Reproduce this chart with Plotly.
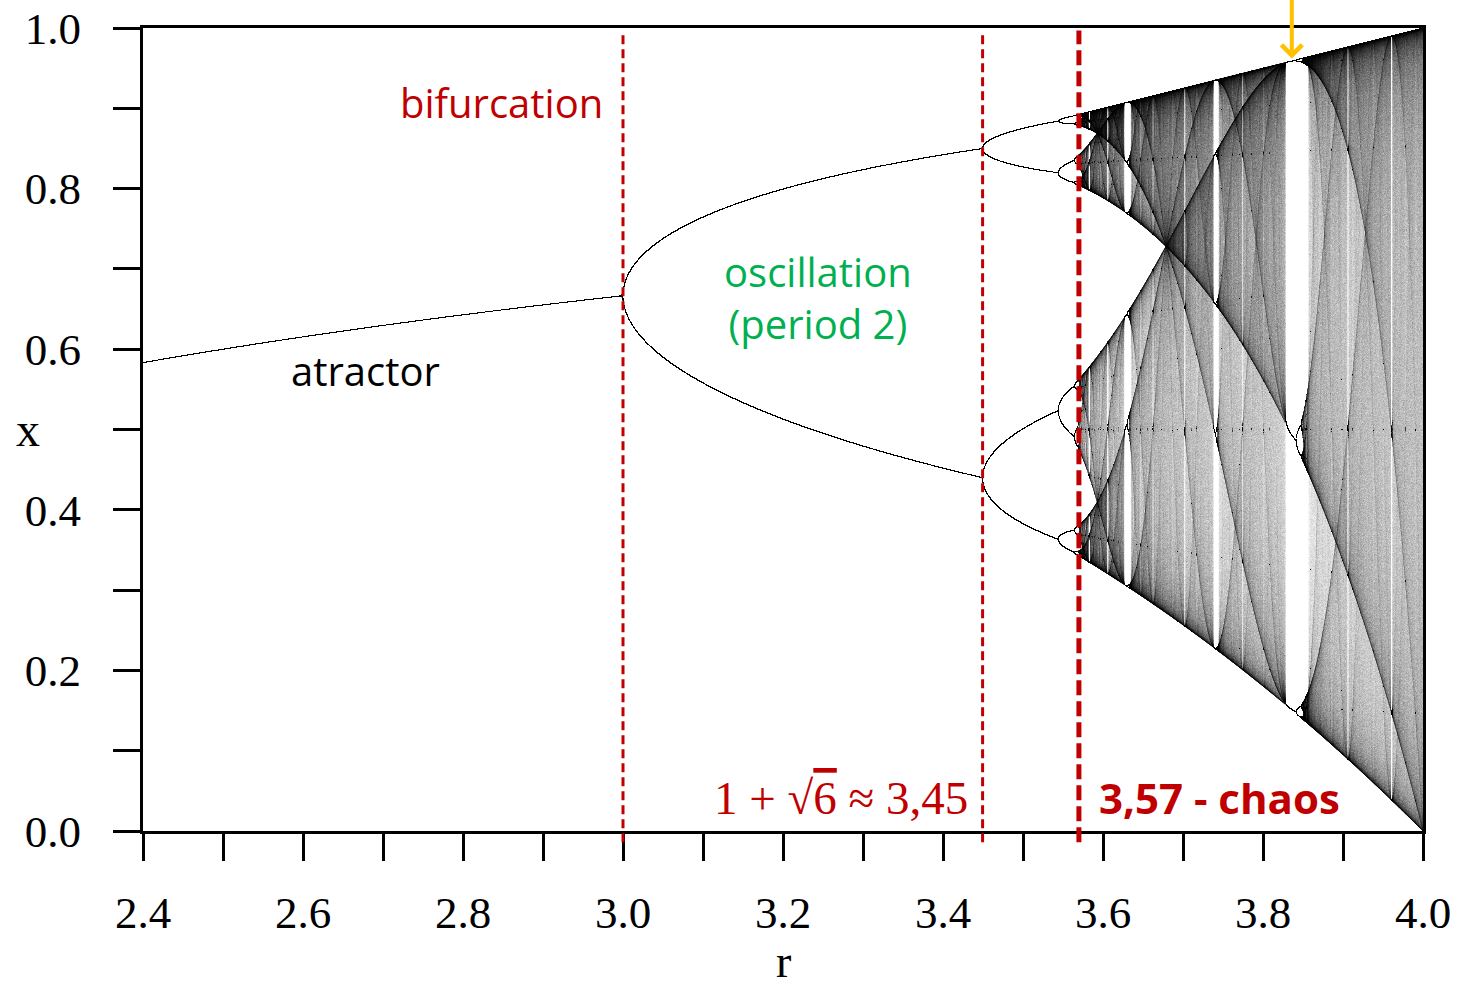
import numpy as np
import plotly.graph_objects as go

# ---------------- data ----------------
r_range = [2.4, 4.0]                 # parameter range shown
x_range = [0.0, 1.0]
x_tick_labels = ["2.4", "2.6", "2.8", "3.0", "3.2", "3.4", "3.6", "3.8", "4.0"]
y_tick_labels = ["0.0", "0.2", "0.4", "0.6", "0.8", "1.0"]
marker_r = [3.0, 3.4495, 3.5699]     # dashed reference lines (bifurcation, 1+sqrt6, chaos onset)
arrow_r = 3.836                      # period-3 window arrow
arrow_x = 0.962
transient_iters = 1500
recorded_iters = 3000
cols, rows = 1280, 803               # density grid
samples_per_col = 12

# logistic map x -> r x (1 - x): bifurcation diagram
r_vals = np.linspace(r_range[0], r_range[1], cols * samples_per_col)
xv = np.full_like(r_vals, 0.2)
for _ in range(transient_iters):
    xv = r_vals * xv * (1 - xv)
col_idx = (np.arange(r_vals.size) * cols) // r_vals.size
counts = np.zeros(cols * rows, dtype=np.int64)
chunk = []
for i in range(recorded_iters):
    xv = r_vals * xv * (1 - xv)
    yi = np.clip((xv * rows).astype(np.int64), 0, rows - 1)
    chunk.append(yi * cols + col_idx)
    if len(chunk) == 100:
        counts += np.bincount(np.concatenate(chunk), minlength=cols * rows)
        chunk = []
if chunk:
    counts += np.bincount(np.concatenate(chunk), minlength=cols * rows)
counts = counts.reshape(rows, cols)
dens = 1 - np.exp(-counts / 100.0)
z = np.round(dens * 255).astype(np.uint8)

# ---------------- figure ----------------
RED = "#c00000"
GREEN = "#00b050"
ORANGE = "#ffc000"
SERIF = "Liberation Serif"
SANS = "Open Sans"

fig = go.Figure()
fig.add_trace(go.Heatmap(
    z=z,
    x0=r_range[0] + (r_range[1] - r_range[0]) / cols / 2, dx=(r_range[1] - r_range[0]) / cols,
    y0=0.5 / rows, dy=1.0 / rows,
    colorscale=[[0, "white"], [1, "black"]], zmin=0, zmax=255,
    showscale=False, hoverinfo="skip", zsmooth=False,
))

# dashed vertical lines
dash_specs = [(3, "9px,5px"), (3, "9px,5px"), (5, "15px,6px")]
for rv, (w, d) in zip(marker_r, dash_specs):
    fig.add_shape(type="line", xref="x", yref="paper", x0=rv, x1=rv, y0=-0.014, y1=0.997,
                  line=dict(color=RED, width=w, dash=d), layer="above")

axis_common = dict(
    showline=True, linewidth=3, linecolor="black", mirror=True,
    ticks="outside", ticklen=27, tickwidth=3, tickcolor="black",
    showgrid=False, zeroline=False, automargin=False,
    tickfont=dict(family=SERIF, size=45, color="black"),
)
fig.update_xaxes(range=r_range, tickvals=[float(t) for t in x_tick_labels], ticktext=x_tick_labels,
                 minor=dict(dtick=0.1, tick0=2.4, ticks="outside", ticklen=27, tickwidth=3, tickcolor="black", showgrid=False),
                 ticklabelstandoff=13, **axis_common)
fig.update_yaxes(range=x_range, tickvals=[float(t) for t in y_tick_labels], ticktext=y_tick_labels,
                 minor=dict(dtick=0.1, tick0=0, ticks="outside", ticklen=27, tickwidth=3, tickcolor="black", showgrid=False),
                 ticklabelstandoff=23, **axis_common)

ann = []
ann.append(dict(text="r", xref="paper", yref="paper", x=0.5, y=-0.163, showarrow=False,
                font=dict(family=SERIF, size=46, color="black"), xanchor="center", yanchor="middle"))
ann.append(dict(text="x", xref="paper", yref="paper", x=-0.090, y=0.5, showarrow=False,
                font=dict(family=SERIF, size=48, color="black"), xanchor="center", yanchor="middle"))
ann.append(dict(text="bifurcation", x=2.977, y=0.907, xanchor="right", yanchor="middle", showarrow=False,
                font=dict(family=SANS, size=40, color=RED)))
ann.append(dict(text="oscillation<br>(period 2)", x=3.244, y=0.665, xanchor="center", yanchor="middle",
                showarrow=False, font=dict(family=SANS, size=40, color=GREEN)))
ann.append(dict(text="atractor", x=2.678, y=0.574, xanchor="center", yanchor="middle", showarrow=False,
                font=dict(family=SANS, size=40, color="black")))
ann.append(dict(text="1 + √<span style='text-decoration:overline'>6</span> ≈ 3,45", x=3.434, y=0.041,
                xanchor="right", yanchor="middle", showarrow=False,
                font=dict(family=SERIF, size=47, color=RED)))
ann.append(dict(text="<b>3,57 - chaos</b>", x=3.5925, y=0.042, xanchor="left", yanchor="middle",
                showarrow=False, font=dict(family=SANS, size=42, color=RED)))
ann.append(dict(text="", x=arrow_r, y=arrow_x, ax=arrow_r, ay=1.04, axref="x", ayref="y",
                showarrow=True, arrowhead=4, arrowwidth=4, arrowsize=1, arrowcolor=ORANGE, standoff=0))

fig.update_layout(
    width=1464, height=989,
    margin=dict(l=143, r=41, t=28, b=158),
    paper_bgcolor="white", plot_bgcolor="white",
    annotations=ann, showlegend=False,
)

fig.write_html("out.html", config={"displayModeBar": False},
               post_script="document.body.style.margin='0';document.body.style.overflow='hidden';")
